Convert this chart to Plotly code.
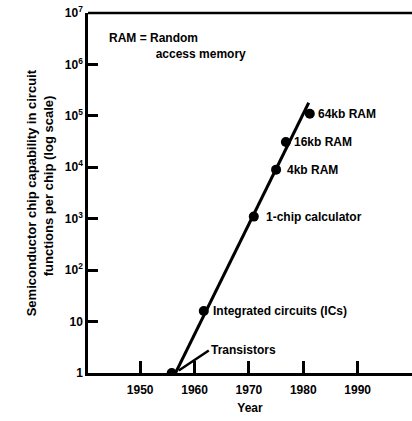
import math
import plotly.graph_objects as go

# Milestones
labels = ["Transistors", "Integrated circuits (ICs)", "1-chip calculator",
          "4kb RAM", "16kb RAM", "64kb RAM"]
years = [1955.8, 1961.7, 1970.9, 1975.0, 1976.8, 1981.2]
values = [1, 16, 1100, 9000, 31000, 110000]

# Trend line
line_years = [1956.5, 1981.0]
line_values = [1, 180000]

ytick_vals = [1, 10, 100, 1000, 10000, 100000, 1000000, 10000000]
ytick_text = ["1", "10", "10<sup>2</sup>", "10<sup>3</sup>", "10<sup>4</sup>",
              "10<sup>5</sup>", "10<sup>6</sup>", "10<sup>7</sup>"]
xtick_vals = [1950, 1960, 1970, 1980, 1990]
ytitle_lines = ["Semiconductor chip capability in circuit",
                "functions per chip (log scale)"]

FONT = "Liberation Sans"
LBL = 12

fig = go.Figure()
fig.add_trace(go.Scatter(x=line_years, y=line_values, mode="lines",
                         line=dict(color="black", width=3), showlegend=False,
                         hoverinfo="skip"))
fig.add_trace(go.Scatter(x=years, y=values, mode="markers",
                         marker=dict(color="black", size=10), showlegend=False))

offsets = {
    "Integrated circuits (ICs)": (7, 0),
    "1-chip calculator": (10, 0),
    "4kb RAM": (9, 0),
    "16kb RAM": (6, 0),
    "64kb RAM": (6, 0),
}
for lab, xv, yv in zip(labels, years, values):
    if lab == "Transistors":
        fig.add_annotation(x=xv + 1.3, y=0.05, xref="x", yref="y",
                           text="<b>" + lab + "</b>",
                           showarrow=True, arrowhead=0, arrowwidth=2.5,
                           arrowcolor="black", ax=30, ay=-20, xanchor="left",
                           font=dict(family=FONT, size=LBL, color="black"))
    else:
        dx, dy = offsets[lab]
        fig.add_annotation(x=xv, y=math.log10(yv), xref="x", yref="y",
                           text="<b>" + lab + "</b>", showarrow=False,
                           xanchor="left", xshift=dx, yshift=dy,
                           font=dict(family=FONT, size=LBL, color="black"))

fig.add_annotation(x=0.06, y=0.955, xref="paper", yref="paper", xanchor="left",
                   yanchor="top", align="left", showarrow=False,
                   text="<b>RAM = Random<br>              access memory</b>",
                   font=dict(family=FONT, size=12, color="black"))

# Two-line y-axis title (rotated)
for txt, xp, yp in zip(ytitle_lines, [-0.175, -0.122], [0.5, 0.52]):
    fig.add_annotation(x=xp, y=yp, xref="paper", yref="paper", xanchor="center",
                       yanchor="middle", textangle=-90, showarrow=False,
                       text="<b>" + txt + "</b>",
                       font=dict(family=FONT, size=13, color="black"))

fig.update_layout(
    width=412, height=421,
    margin=dict(l=88, r=0, t=13, b=48),
    paper_bgcolor="white", plot_bgcolor="white",
    font=dict(family=FONT, size=12, color="black"),
    xaxis=dict(range=[1940.4, 2000], tickvals=xtick_vals, ticks="inside",
               ticklen=12, tickwidth=2.5, tickcolor="black", showgrid=False,
               zeroline=False, showline=True, linecolor="black", linewidth=2.5,
               mirror=False, tickfont=dict(family=FONT, size=12, weight="bold"),
               ticklabelstandoff=4,
               title=dict(text="<b>Year</b>", font=dict(family=FONT, size=12),
                          standoff=8)),
    yaxis=dict(type="log", range=[0, 7], tickvals=ytick_vals, ticktext=ytick_text,
               ticks="inside", ticklen=10, tickwidth=2.5, tickcolor="black",
               showgrid=False, zeroline=False, showline=True, linecolor="black",
               linewidth=2.5, tickfont=dict(family=FONT, size=12, weight="bold"),
               ticklabeloverflow="allow"),
)
fig.add_shape(type="line", xref="paper", yref="paper", x0=0, x1=1, y0=1, y1=1,
              line=dict(color="black", width=2.5))

fig.write_html("out.html", config={"displayModeBar": False},
               post_script="document.body.style.margin='0';document.body.style.padding='0';")
